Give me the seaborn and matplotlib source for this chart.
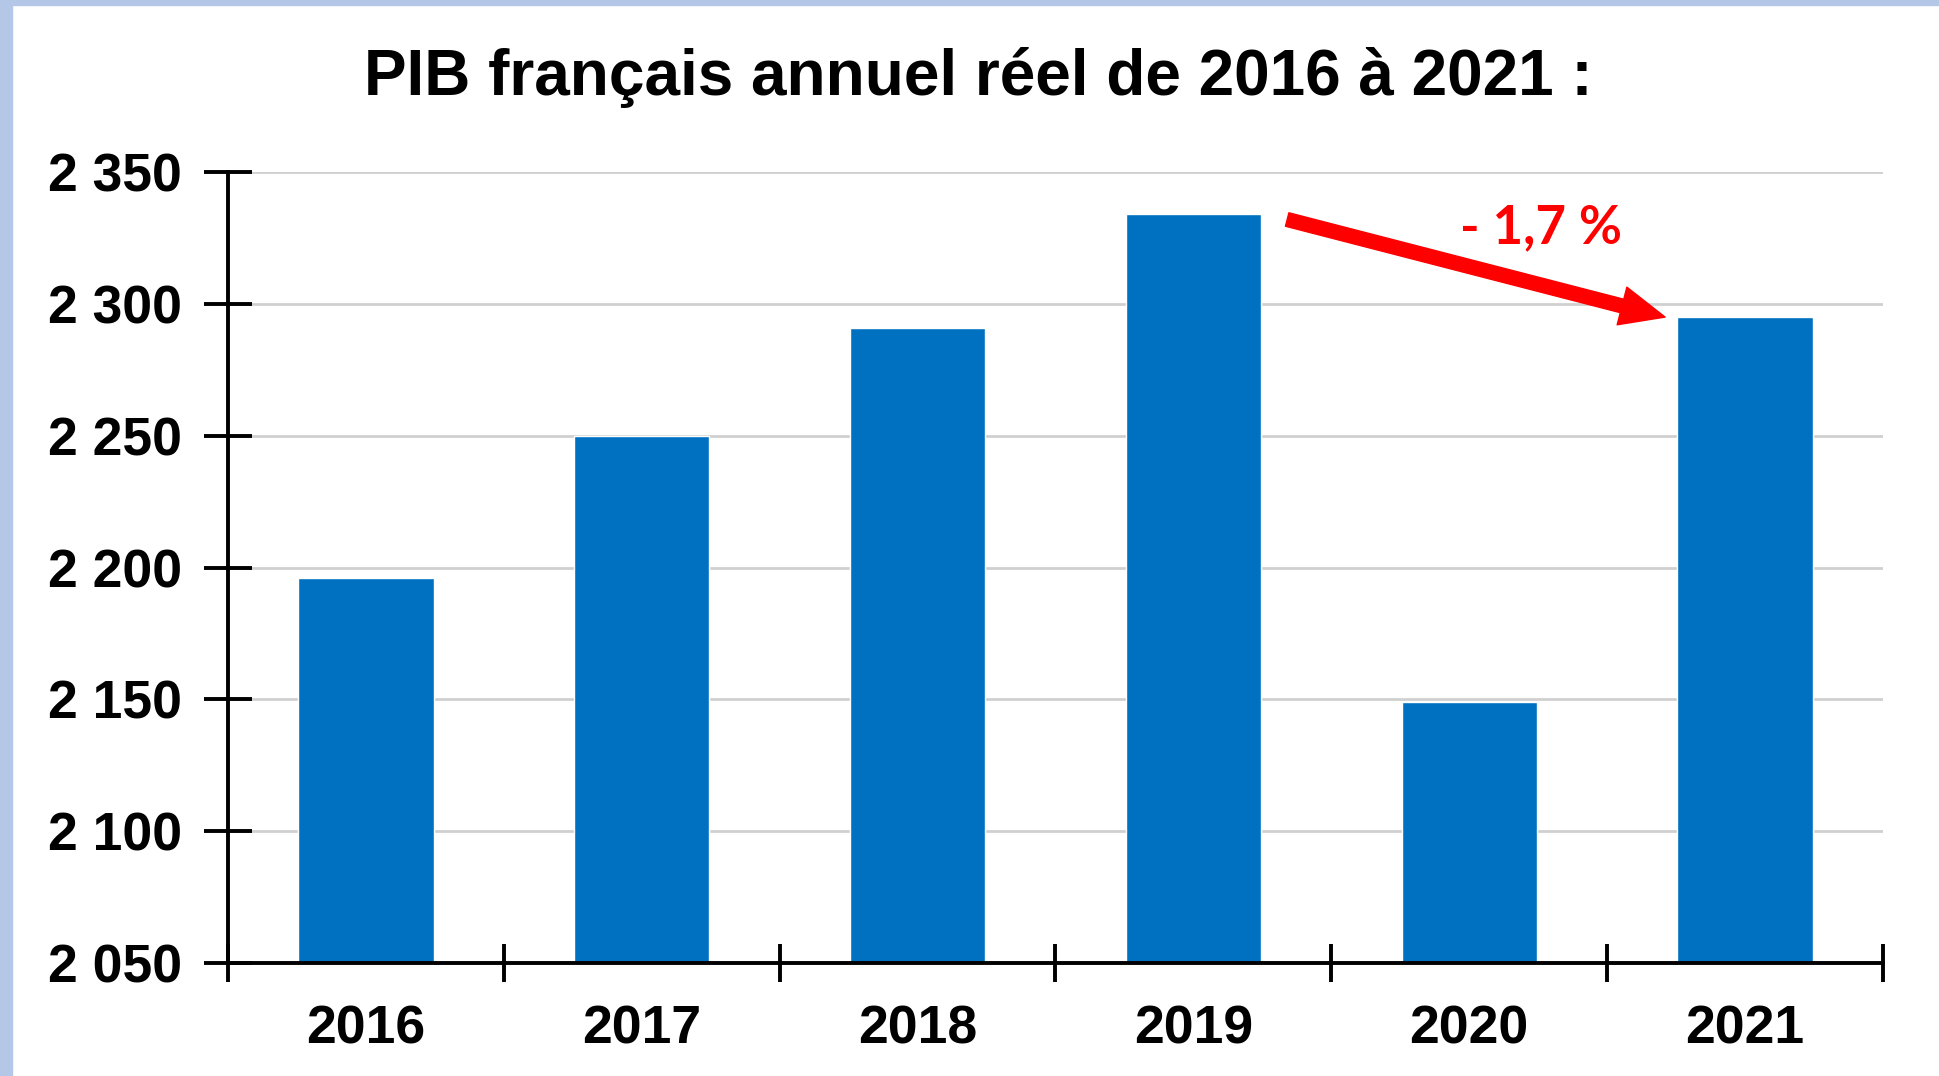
import matplotlib
matplotlib.use("Agg")
import matplotlib.pyplot as plt
import seaborn as sns
import pandas as pd
from matplotlib.patches import Rectangle

# PIB annuel reel (Mds EUR)
years = ["2016", "2017", "2018", "2019", "2020", "2021"]
pib = [2196, 2250, 2291, 2334, 2149, 2295]
yticks = [2050, 2100, 2150, 2200, 2250, 2300, 2350]
title = "PIB français annuel réel de 2016 à 2021 :"
variation = "- 1,7 %"

data = pd.DataFrame({"annee": years, "pib": pib})

sns.set_style("white")
plt.rcParams["font.family"] = ["Liberation Sans", "DejaVu Sans"]
plt.rcParams["text.color"] = "black"
plt.rcParams["xtick.color"] = "black"
plt.rcParams["ytick.color"] = "black"

fig = plt.figure(figsize=(19.39, 10.76), dpi=100)
ax = fig.add_axes([0.1176, 0.105, 0.8535, 0.7351])

# fond bleu clair a gauche et en haut
fig.patches.append(Rectangle((0, 0), 12 / 1939, 1, transform=fig.transFigure,
                             color="#B4C7E7", zorder=-1))
fig.patches.append(Rectangle((0, 1 - 5 / 1076), 1, 5 / 1076, transform=fig.transFigure,
                             color="#B4C7E7", zorder=-1))

sns.barplot(data=data, x="annee", y="pib", color="#0070C0", width=0.49,
            saturation=1, ax=ax, zorder=2)

ax.set_ylim(2050, 2350)
ax.set_xlim(-0.5, len(years) - 0.5)
ax.set_yticks(yticks)
ax.set_yticklabels([f"{v // 1000} {v % 1000:03d}" for v in yticks],
                   fontsize=38.5, fontweight="bold")
ax.set_xticks(range(len(years)))
ax.set_xticklabels(years, fontsize=38.5, fontweight="bold")
ax.set_xticks([i - 0.5 for i in range(len(years) + 1)], minor=True)
ax.tick_params(axis="x", which="major", bottom=True, length=0, pad=30)
ax.tick_params(axis="x", which="minor", bottom=True, direction="inout",
               length=28, width=2.8)
ax.tick_params(axis="y", left=True, direction="inout", length=34, width=2.8, pad=16)
ax.set_xlabel("")
ax.set_ylabel("")

ax.grid(axis="y", color="#D0D0D0", linewidth=2, zorder=0)
ax.set_axisbelow(True)
for side in ["top", "right"]:
    ax.spines[side].set_visible(False)
for side in ["left", "bottom"]:
    ax.spines[side].set_linewidth(2.8)
    ax.spines[side].set_color("black")
    ax.spines[side].set_zorder(3)

fig.text(978 / 1939, 1 - 95 / 1076, title, ha="center", va="baseline",
         fontsize=46, fontweight="bold")

# fleche rouge 2019 -> 2021
ax.annotate("", xy=(5 - 0.29, pib[5]), xytext=(3 + 0.34, pib[3] - 2),
            arrowprops=dict(facecolor="red", edgecolor="red", width=10,
                            headwidth=28, headlength=32, shrink=0),
            zorder=4)
ax.text(4.26, 2323, variation, color="red", fontsize=38, fontweight="bold",
        ha="center", va="baseline", family=["Lato", "DejaVu Sans"])

fig.savefig("out.png", dpi=100)
